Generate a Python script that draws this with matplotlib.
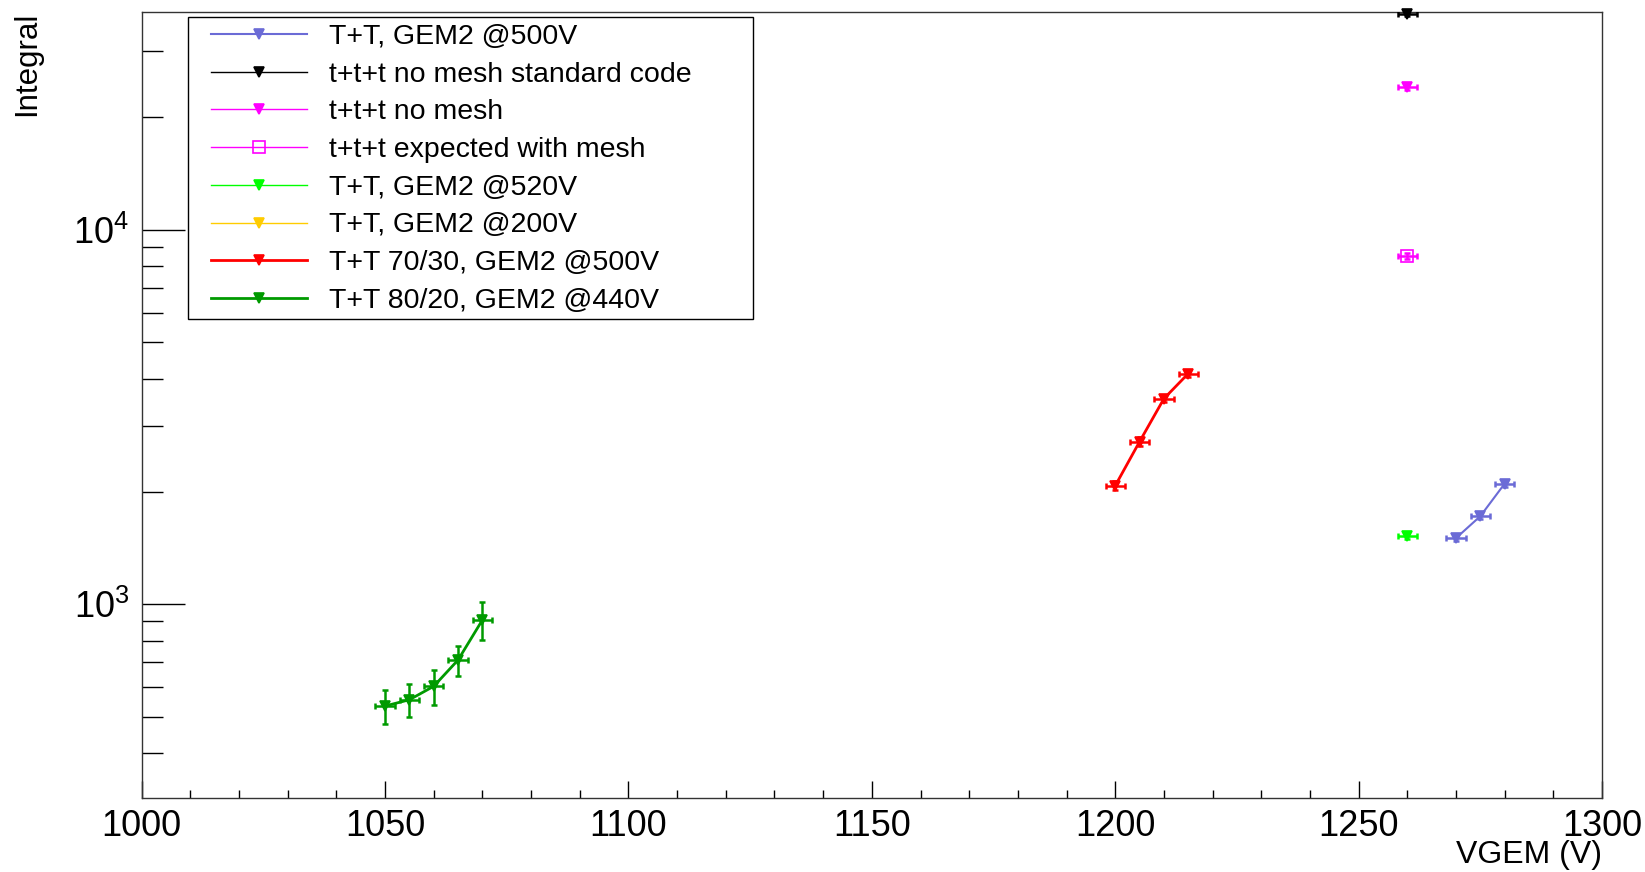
import matplotlib
matplotlib.use("Agg")
import matplotlib.pyplot as plt
from matplotlib.lines import Line2D
from matplotlib.patches import Rectangle
from matplotlib.ticker import MultipleLocator, LogLocator, NullFormatter
from matplotlib import font_manager as fm

def has_font(name):
    try:
        fm.findfont(name, fallback_to_default=False)
        return True
    except Exception:
        return False

TICKFONT = "Liberation Sans Narrow" if has_font("Liberation Sans Narrow") else "Liberation Sans"
TEXTFONT = "Liberation Sans"

# ---------------- data ----------------
# T+T, GEM2 @500V
blue_x = [1270, 1275, 1280]
blue_y = [1502, 1719, 2100]
blue_ey = [30, 35, 40]
# t+t+t no mesh standard code
black_x = [1260]
black_y = [37660]
black_ey = [500]
# t+t+t no mesh
mag_x = [1260]
mag_y = [24040]
mag_ey = [400]
# t+t+t expected with mesh
magsq_x = [1260]
magsq_y = [8510]
magsq_ey = [150]
# T+T, GEM2 @520V
lime_x = [1260]
lime_y = [1520]
lime_ey = [30]
# T+T, GEM2 @200V (outside the visible range)
yel_x = []
yel_y = []
yel_ey = []
# T+T 70/30, GEM2 @500V
red_x = [1200, 1205, 1210, 1215]
red_y = [2073, 2718, 3540, 4131]
red_ey = [60, 70, 80, 90]
# T+T 80/20, GEM2 @440V
grn_x = [1050, 1055, 1060, 1065, 1070]
grn_y = [535, 556, 604, 710, 908]
grn_ey = [55, 55, 64, 65, 104]
x_err = 2.0

labels = ["T+T, GEM2 @500V", "t+t+t no mesh standard code", "t+t+t no mesh",
          "t+t+t expected with mesh", "T+T, GEM2 @520V", "T+T, GEM2 @200V",
          "T+T 70/30, GEM2 @500V", "T+T 80/20, GEM2 @440V"]

C_BLUE = "#6b6bd6"
C_BLACK = "#000000"
C_MAG = "#ff00ff"
C_LIME = "#00ff00"
C_YEL = "#ffcc00"
C_RED = "#ff0000"
C_GRN = "#009a00"

W, H = 1645, 872
fig = plt.figure(figsize=(W / 100, H / 100), dpi=100)
ax = fig.add_axes([0.0861, 0.0849, 0.9739 - 0.0861, 0.9868 - 0.0849])

series = [
    (blue_x, blue_y, blue_ey, C_BLUE, "v", True, 1.5, True),
    (black_x, black_y, black_ey, C_BLACK, "v", True, 1.0, False),
    (mag_x, mag_y, mag_ey, C_MAG, "v", True, 1.0, False),
    (magsq_x, magsq_y, magsq_ey, C_MAG, "s", False, 1.0, False),
    (lime_x, lime_y, lime_ey, C_LIME, "v", True, 1.0, False),
    (yel_x, yel_y, yel_ey, C_YEL, "v", True, 1.0, False),
    (red_x, red_y, red_ey, C_RED, "v", True, 2.0, True),
    (grn_x, grn_y, grn_ey, C_GRN, "v", True, 2.0, True),
]

handles = []
for (xs, ys, eys, col, mk, filled, lw, connect), lab in zip(series, labels):
    if len(xs):
        ax.errorbar(xs, ys, xerr=[x_err] * len(xs), yerr=eys, fmt="none",
                    ecolor=col, elinewidth=1.8, capsize=2.5, capthick=1.8, zorder=3)
        if connect:
            ax.plot(xs, ys, "-", color=col, lw=lw, zorder=3)
        ax.plot(xs, ys, linestyle="none", marker=mk, markersize=7.5 if filled else 9,
                markerfacecolor=col if filled else "none", markeredgecolor=col,
                markeredgewidth=1.2, zorder=4, clip_on=False)
    handles.append(Line2D([], [], color=col, lw=lw, marker=mk,
                          markersize=7 if filled else 8,
                          markerfacecolor=col if filled else "none",
                          markeredgecolor=col, markeredgewidth=1.2))

ax.set_xlim(1000, 1300)
ax.set_yscale("log")
ax.set_ylim(304, 38240)

ax.xaxis.set_major_locator(MultipleLocator(50))
ax.xaxis.set_minor_locator(MultipleLocator(10))
ax.yaxis.set_major_locator(LogLocator(base=10))
ax.yaxis.set_minor_locator(LogLocator(base=10, subs=[2, 3, 4, 5, 6, 7, 8, 9]))
ax.yaxis.set_minor_formatter(NullFormatter())

ax.tick_params(axis="x", which="major", direction="in", length=12, width=1, pad=8,
               labelsize=26)
ax.tick_params(axis="x", which="minor", direction="in", length=6, width=1)
ax.tick_params(axis="y", which="major", direction="in", length=31, width=1, pad=9,
               labelsize=26)
ax.tick_params(axis="y", which="minor", direction="in", length=15, width=1)
for lbl in ax.get_xticklabels() + ax.get_yticklabels():
    lbl.set_fontfamily(TICKFONT)
for sp in ax.spines.values():
    sp.set_linewidth(1.0)
    sp.set_color("#333333")

fig.text(0.9739, 0.0195, "VGEM (V)", ha="right", va="center", fontsize=23,
         family=TICKFONT)
fig.text(0.0165, 0.9868, "Integral", ha="center", va="top", rotation=90,
         fontsize=22.5, family=TICKFONT)

# legend frame (fixed box as in ROOT)
lx0, lx1, ly0, ly1 = 188, 753, 17, 319
fig.patches.append(Rectangle((lx0 / W, 1 - ly1 / H), (lx1 - lx0) / W, (ly1 - ly0) / H,
                             transform=fig.transFigure, facecolor="white",
                             edgecolor="black", lw=1.0, zorder=5))
leg = fig.legend(handles, labels, loc="upper left",
                 bbox_to_anchor=((lx0 + 16) / W, 1 - ly0 / H),
                 bbox_transform=fig.transFigure,
                 prop={"family": TEXTFONT, "size": 20.5}, numpoints=1,
                 handlelength=3.36, handletextpad=0.77, labelspacing=0.41,
                 borderpad=0.25, borderaxespad=0, frameon=False)
leg.set_zorder(6)

fig.savefig("out.png", dpi=100)
